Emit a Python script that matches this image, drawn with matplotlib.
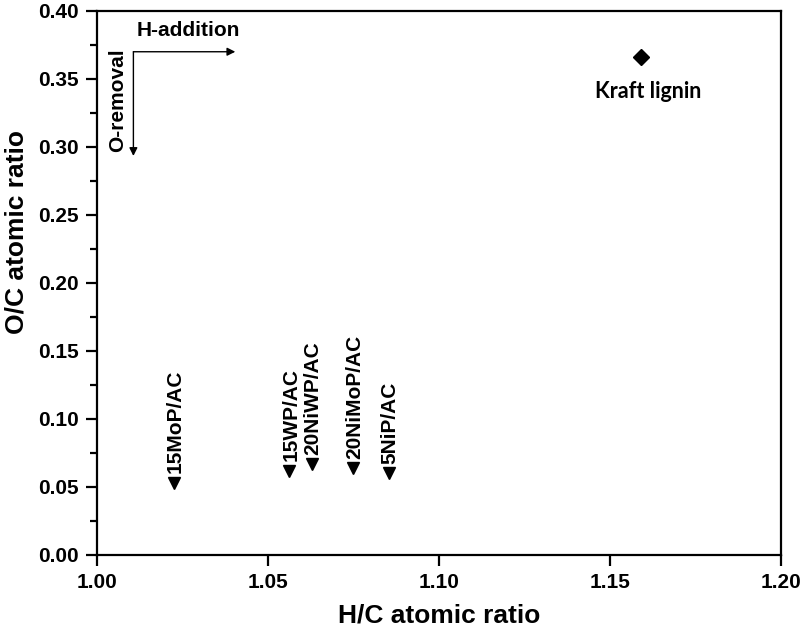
import numpy as np
import matplotlib.pyplot as plt
from matplotlib.ticker import MultipleLocator

plt.rcParams['font.family'] = ['Liberation Sans', 'DejaVu Sans']
plt.rcParams['font.weight'] = 'bold'

# catalysts
names = ['15MoP/AC', '15WP/AC', '20NiWP/AC', '20NiMoP/AC', '5NiP/AC']
hc = [1.0225, 1.0563, 1.0628, 1.0749, 1.0854]
oc = [0.0527, 0.0619, 0.0666, 0.0637, 0.0600]

# feed
lignin_hc = 1.1591
lignin_oc = 0.3657

fig = plt.figure(figsize=(8, 6.27), dpi=100)
ax = fig.add_axes([0.121, 0.115, 0.855, 0.868])

ax.plot(hc, oc, 'v', color='black', markersize=9, linestyle='none')
for n, x, y in zip(names, hc, oc):
    ax.annotate(n, (x, y), xytext=(1, 7), textcoords='offset points',
                rotation=90, ha='center', va='bottom', fontsize=15, fontweight='bold')

ax.plot([lignin_hc], [lignin_oc], 'D', color='black', markersize=8)
ax.annotate('Kraft lignin', (lignin_hc, lignin_oc), xytext=(5, -17), textcoords='offset points',
            ha='center', va='top', fontsize=15.5, fontweight='bold', family=['Lato', 'DejaVu Sans'])

# direction arrows
ax.annotate('', xy=(1.0405, 0.3698), xytext=(1.0107, 0.3698),
            arrowprops=dict(arrowstyle='-|>', color='black', lw=1, mutation_scale=12,
                            shrinkA=0, shrinkB=0))
ax.annotate('', xy=(1.0107, 0.2932), xytext=(1.0107, 0.3698),
            arrowprops=dict(arrowstyle='-|>', color='black', lw=1, mutation_scale=12,
                            shrinkA=0, shrinkB=0))
ax.text(1.0267, 0.3857, 'H-addition', ha='center', va='center', fontsize=15, fontweight='bold')
ax.text(1.0060, 0.3343, 'O-removal', ha='center', va='center', rotation=90,
        fontsize=15, fontweight='bold')

ax.set_xlim(1.00, 1.20)
ax.set_ylim(0.00, 0.40)
ax.xaxis.set_major_locator(MultipleLocator(0.05))
ax.yaxis.set_major_locator(MultipleLocator(0.05))
ax.yaxis.set_minor_locator(MultipleLocator(0.025))
ax.xaxis.set_major_formatter(plt.FormatStrFormatter('%.2f'))
ax.yaxis.set_major_formatter(plt.FormatStrFormatter('%.2f'))
ax.tick_params(direction='out', width=1.6, length=8, labelsize=15, pad=5)
ax.tick_params(which='minor', direction='out', width=1.6, length=5)
for s in ax.spines.values():
    s.set_linewidth(1.6)

ax.set_xlabel('H/C atomic ratio', fontsize=19, fontweight='bold', labelpad=8)
ax.set_ylabel('O/C atomic ratio', fontsize=19, fontweight='bold')
ax.yaxis.set_label_coords(-0.1, 0.593)

fig.savefig('out.png', dpi=100)
